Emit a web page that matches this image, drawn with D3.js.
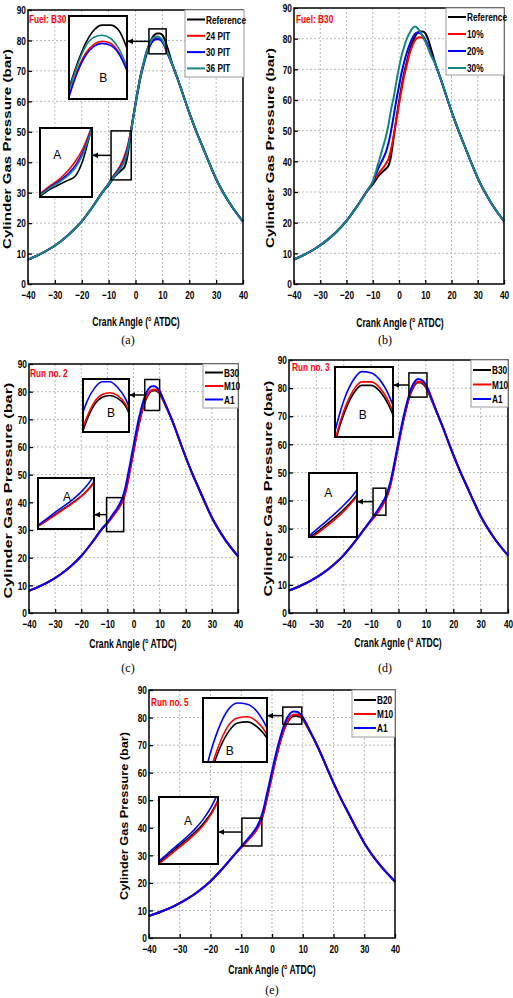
<!DOCTYPE html>
<html>
<head>
<meta charset="utf-8">
<script src="https://cdn.jsdelivr.net/npm/d3@7"></script>
<style>
body { margin: 0; background: #fff; }
svg { display: block; }
.narrow { font-family: 'Liberation Sans', Arial, sans-serif; font-weight: bold; }
</style>
</head>
<body>
<svg id="fig" width="513" height="998"></svg>
<script>
// crank angle samples (deg ATDC)
const angleLow = [-40, -36, -32, -28, -24, -20, -16, -12];
const angleMid = [-10, -8, -6, -5, -4, -3, -2, -1, 0, 1, 2, 3, 4, 5, 6, 7, 8, 9, 10, 11, 12];
const angleHigh = [14, 16, 18, 20, 22.5, 25, 27.5, 30, 35, 40];

// compression and expansion parts, shared by all cases (bar)
const pressLow = [8, 9.6, 11.5, 13.9, 16.9, 20.6, 25.3, 30.5];
const pressHigh = [71.4, 66.6, 61.4, 56.3, 50.4, 45, 39.6, 34.5, 26.6, 20.5];

// combustion part, one array per curve
// (a) and (b)
const refMid   = [32.5, 35, 36.8, 37.6, 38.6, 42, 48, 54, 59.5, 64.5, 69, 72.5, 76, 78.5, 80.5, 81.8, 82.3, 82.3, 81.8, 80, 77.3];
const pit24Mid = [33, 35.8, 38.3, 40, 42.2, 45, 49, 54, 59, 64, 68.5, 72, 75.3, 77.8, 79.5, 80.4, 80.7, 80.5, 79.6, 77.9, 75.7];
const pit30Mid = [32.9, 35.5, 37.8, 39.2, 41.2, 44.2, 48.5, 53.8, 59, 64, 68.5, 72, 75.2, 77.6, 79.3, 80.2, 80.5, 80.3, 79.5, 77.8, 75.6];
const pit36Mid = [32.8, 35.3, 37.5, 38.8, 40.6, 43.6, 48.2, 53.6, 59, 64.2, 68.8, 72.5, 75.8, 78.3, 80.2, 81.1, 81.3, 81, 80, 78.2, 75.9];
const egr10Mid = [33, 35.8, 38, 39.2, 40.8, 44, 48.5, 53.5, 58.5, 63.5, 68, 71.5, 75, 77.5, 79.3, 80.3, 80.5, 80.2, 79.3, 77.6, 75.4];
const egr20Mid = [33.2, 37.5, 41, 43, 46, 50, 55, 60, 64.5, 69, 72.5, 75.5, 78, 80, 81.5, 82, 81.8, 81, 79.7, 77.7, 75.4];
const egr30Mid = [33.5, 39, 45, 48, 52, 57, 61, 66, 70.5, 74.5, 77.5, 80, 81.8, 83.3, 84, 83.5, 82.3, 80.8, 79.1, 77.1, 74.9];
// (c) run no. 2
const run2B30 = [32.5, 35, 37.5, 39, 41, 44, 48.5, 53.5, 58.5, 63.5, 68, 72, 75.3, 77.8, 79.5, 80.3, 80.5, 80.2, 79.4, 77.6, 75.5];
const run2M10 = [32.4, 34.9, 37.4, 38.9, 40.9, 44, 48.5, 53.5, 58.5, 63.5, 68.1, 72.2, 75.6, 78.1, 79.8, 80.6, 80.8, 80.5, 79.6, 77.8, 75.7];
const run2A1  = [32.7, 35.5, 38.2, 40, 42.3, 45.8, 50.5, 55.5, 60.5, 65.5, 70, 74, 77.3, 79.8, 81.3, 82, 82, 81.4, 80.2, 78.2, 76];
// (d) run no. 3
const run3B30 = [33, 35.5, 38.3, 40, 42.3, 45.5, 50, 55, 60, 65, 69.5, 73.5, 77, 79.5, 81.2, 82, 82, 81.5, 80.3, 78.4, 76];
const run3M10 = [32.8, 35.2, 38, 39.8, 42, 45.3, 50, 55, 60, 65, 69.6, 73.6, 77.2, 79.8, 81.5, 82.3, 82.3, 81.8, 80.6, 78.6, 76.2];
const run3A1  = [33.2, 36, 39, 40.8, 43.2, 46.5, 51, 56, 61, 66, 70.5, 74.5, 78, 80.7, 82.4, 83.2, 83.1, 82.5, 81.2, 79.2, 76.7];
// (e) run no. 5
const run5B20 = [33, 35.5, 38, 39.5, 41.5, 44.5, 49, 54, 59, 64, 68.5, 72.5, 75.8, 78.2, 79.8, 80.6, 80.7, 80.3, 79.4, 77.6, 75.5];
const run5M10 = [32.8, 35.2, 37.7, 39.2, 41.3, 44.4, 49, 54, 59, 64, 68.6, 72.7, 76.1, 78.6, 80.3, 81, 81.1, 80.7, 79.7, 77.8, 75.7];
const run5A1  = [33.2, 35.8, 38.5, 40.2, 42.5, 45.8, 50.5, 55.5, 60.5, 65.5, 70, 74, 77.5, 80, 81.6, 82.2, 82.1, 81.5, 80.2, 78.2, 76];

const xTicks = [-40, -30, -20, -10, 0, 10, 20, 30, 40];
const yTicks = [0, 10, 20, 30, 40, 50, 60, 70, 80, 90];

const BLACK = "#000000", RED = "#ff0000", BLUE = "#0000ff", TEAL = "#138783";
const SQUEEZE = 0.72; // the figure uses a narrow bold face

function curve(mid) {
    const a = angleLow.concat(angleMid, angleHigh);
    const p = pressLow.concat(mid, pressHigh);
    return a.map((d, i) => [d, p[i]]);
}

const panels = [
    {
        caption: "(a)", capX: 128, capY: 344,
        left: 28, right: 243, top: 10, bottom: 284,
        note: "Fuel: B30", noteX: 29, noteY: 23,
        xTitle: "Crank Angle (\u00b0 ATDC)", xTitleX: 136, xTitleY: 326,
        yTitleX: 7, yTitleLen: 200,
        names: ["Reference", "24 PIT", "30 PIT", "36 PIT"],
        series: [refMid, pit24Mid, pit30Mid, pit36Mid],
        colors: [BLACK, RED, BLUE, TEAL],
        legend: { x: 185, y: 10, w: 59, h: 67, first: 9.5, row: 16.3, line: 18 },
        insets: [
            { box: [5, 11.4, 75.6, 83.8], view: [4, 11, 75, 83.2], rect: [69, 16, 58, 83], label: "B", lab: [0.59, 0.75] },
            { box: [-9.1, -1.6, 34.2, 50.3], view: [-9.1, -1.6, 33.5, 50.3], rect: [40, 128, 52, 69], label: "A", lab: [0.33, 0.39] }
        ]
    },
    {
        caption: "(b)", capX: 385, capY: 344,
        left: 294, right: 504, top: 8, bottom: 284,
        note: "Fuel: B30", noteX: 296, noteY: 23,
        xTitle: "Crank Angle (\u00b0 ATDC)", xTitleX: 400, xTitleY: 327,
        yTitleX: 270, yTitleLen: 200,
        names: ["Reference", "10%", "20%", "30%"],
        series: [refMid, egr10Mid, egr20Mid, egr30Mid],
        colors: [BLACK, RED, BLUE, TEAL],
        legend: { x: 446, y: 8, w: 58, h: 67, first: 9, row: 17, line: 18 },
        insets: []
    },
    {
        caption: "(c)", capX: 128, capY: 672,
        left: 29, right: 238, top: 364, bottom: 613,
        note: "Run no. 2", noteX: 30, noteY: 377,
        xTitle: "Crank Angle (\u00b0 ATDC)", xTitleX: 133, xTitleY: 648,
        yTitleX: 8, yTitleLen: 216,
        names: ["B30", "M10", "A1"],
        series: [run2B30, run2M10, run2A1],
        colors: [BLACK, RED, BLUE],
        legend: { x: 203, y: 364, w: 35, h: 44, first: 8.5, row: 13.5, line: 18 },
        insets: [
            { box: [4.3, 10, 73.2, 84.4], view: [4.5, 10.5, 76.5, 82.3], rect: [83, 379, 46, 53], label: "B", lab: [0.61, 0.64] },
            { box: [-10.3, -3.75, 29.4, 41.7], view: [-10.3, -3.75, 31.5, 42.5], rect: [38, 478, 56, 51], label: "A", lab: [0.52, 0.37] }
        ]
    },
    {
        caption: "(d)", capX: 385, capY: 672,
        left: 289, right: 508, top: 360, bottom: 613,
        note: "Run no. 3", noteX: 292, noteY: 371,
        xTitle: "Crank Agnle (\u00b0 ATDC)", xTitleX: 398, xTitleY: 647,
        yTitleX: 268, yTitleLen: 216,
        names: ["B30", "M10", "A1"],
        series: [run3B30, run3M10, run3A1],
        colors: [BLACK, RED, BLUE],
        legend: { x: 471, y: 360, w: 37, h: 47, first: 10, row: 14.5, line: 18 },
        insets: [
            { box: [3.8, 10.4, 76.8, 85.4], view: [4, 10.5, 77.5, 83.6], rect: [335, 367, 58, 70], label: "B", lab: [0.48, 0.69] },
            { box: [-9.3, -4.6, 34.8, 44.4], view: [-9.3, -4.6, 34, 44.4], rect: [309, 473, 48, 64], label: "A", lab: [0.4, 0.31] }
        ]
    },
    {
        caption: "(e)", capX: 272, capY: 994,
        left: 149, right: 395, top: 690, bottom: 938,
        note: "Run no. 5", noteX: 151, noteY: 706,
        xTitle: "Crank Angle (\u00b0 ATDC)", xTitleX: 272, xTitleY: 974,
        yTitleX: 124, yTitleLen: 168,
        names: ["B20", "M10", "A1"],
        series: [run5B20, run5M10, run5A1],
        colors: [BLACK, RED, BLUE],
        legend: { x: 352, y: 690, w: 43, h: 47, first: 10, row: 14, line: 22 },
        insets: [
            { box: [3.5, 9.7, 77.6, 83.8], view: [3.5, 10, 77.5, 82.6], rect: [203, 698, 64, 64], label: "B", lab: [0.42, 0.83] },
            { box: [-9.8, -3.3, 33.4, 43.5], view: [-9.8, -3.3, 33, 44], rect: [159, 797, 59, 67], label: "A", lab: [0.49, 0.36] }
        ]
    }
];

const svg = d3.select("#fig");

svg.append("defs").append("marker")
    .attr("id", "arrow")
    .attr("viewBox", "0 0 10 10")
    .attr("refX", 9).attr("refY", 5)
    .attr("markerWidth", 4).attr("markerHeight", 4)
    .attr("markerUnits", "strokeWidth")
    .attr("orient", "auto")
    .append("path")
    .attr("d", "M0,0L10,5L0,10Z")
    .attr("fill", "#000");

// narrow bold text placed at (x, y)
function narrowText(sel, x, y, size, str) {
    return sel.append("text")
        .attr("class", "narrow")
        .attr("transform", `translate(${x},${y}) scale(${SQUEEZE},1)`)
        .attr("font-size", size)
        .text(str);
}

panels.forEach((p, pi) => drawPanel(p, pi));

function drawPanel(p, pi) {
    const g = svg.append("g");
    const x = d3.scaleLinear().domain([-40, 40]).range([p.left, p.right]);
    const y = d3.scaleLinear().domain([0, 90]).range([p.bottom, p.top]);

    // dotted grid
    g.append("g").selectAll("line").data(xTicks.slice(1, -1)).join("line")
        .attr("x1", d => x(d)).attr("x2", d => x(d))
        .attr("y1", p.top).attr("y2", p.bottom)
        .attr("stroke", "#b8b8b8").attr("stroke-width", 1).attr("stroke-dasharray", "2,2");
    g.append("g").selectAll("line").data(yTicks.slice(1, -1)).join("line")
        .attr("y1", d => y(d)).attr("y2", d => y(d))
        .attr("x1", p.left).attr("x2", p.right)
        .attr("stroke", "#b8b8b8").attr("stroke-width", 1).attr("stroke-dasharray", "2,2");

    const line = d3.line().x(d => x(d[0])).y(d => y(d[1])).curve(d3.curveMonotoneX);

    p.series.forEach((s, i) => {
        g.append("path")
            .attr("d", line(curve(s)))
            .attr("fill", "none")
            .attr("stroke", p.colors[i])
            .attr("stroke-width", 2);
    });

    // frame
    g.append("rect")
        .attr("x", p.left).attr("y", p.top)
        .attr("width", p.right - p.left).attr("height", p.bottom - p.top)
        .attr("fill", "none").attr("stroke", "#000").attr("stroke-width", 1.5);

    // axes, ticks pointing inward
    g.append("g")
        .attr("transform", `translate(0,${p.bottom})`)
        .call(d3.axisBottom(x).tickValues(xTicks).tickSize(-4).tickPadding(7).tickFormat(d3.format("d")))
        .call(a => a.select(".domain").remove())
        .call(a => a.selectAll("line").attr("stroke-width", 1.3))
        .call(a => a.selectAll("text").attr("class", "narrow").attr("font-size", 11.5).attr("fill", "#000")
            .attr("transform", `scale(${SQUEEZE},1)`));
    g.append("g")
        .attr("transform", `translate(${p.left},0)`)
        .call(d3.axisLeft(y).tickValues(yTicks).tickSize(-4).tickPadding(3).tickFormat(d3.format("d")))
        .call(a => a.select(".domain").remove())
        .call(a => a.selectAll("line").attr("stroke-width", 1.3))
        .call(a => a.selectAll("text").attr("class", "narrow").attr("font-size", 11.5).attr("fill", "#000")
            .attr("transform", `scale(${SQUEEZE},1)`));

    // titles
    narrowText(g, p.xTitleX, p.xTitleY, 12, p.xTitle).attr("text-anchor", "middle");
    const yMid = (p.top + p.bottom) / 2 + 2;
    g.append("text")
        .attr("transform", `translate(${p.yTitleX + 4},${yMid}) rotate(-90)`)
        .attr("text-anchor", "middle")
        .attr("font-family", "'Liberation Sans', Arial, sans-serif")
        .attr("font-weight", "bold")
        .attr("font-size", 11.5)
        .attr("textLength", p.yTitleLen)
        .attr("lengthAdjust", "spacingAndGlyphs")
        .text("Cylinder Gas Pressure (bar)");

    narrowText(g, p.noteX, p.noteY, 11.5, p.note).attr("fill", "#ff0000");

    g.append("text")
        .attr("x", p.capX).attr("y", p.capY)
        .attr("text-anchor", "middle")
        .attr("font-family", "'Liberation Serif', 'Times New Roman', serif")
        .attr("font-size", 12)
        .text(p.caption);

    // legend
    const L = p.legend;
    const lg = g.append("g");
    lg.append("rect")
        .attr("x", L.x).attr("y", L.y).attr("width", L.w).attr("height", L.h)
        .attr("fill", "#fff").attr("stroke", "#9a9a9a").attr("stroke-width", 1);
    p.names.forEach((n, i) => {
        const yy = L.y + L.first + i * L.row;
        lg.append("line")
            .attr("x1", L.x + 2).attr("x2", L.x + 2 + L.line)
            .attr("y1", yy).attr("y2", yy)
            .attr("stroke", p.colors[i]).attr("stroke-width", 2);
        narrowText(lg, L.x + 3 + L.line, yy + 4, 11.5, n);
    });

    // zoom insets
    p.insets.forEach((ins, k) => {
        const [bx0, bx1, by0, by1] = ins.box;
        const sx = x(bx0), ex = x(bx1), sy = y(by1), ey = y(by0);
        g.append("rect")
            .attr("x", sx).attr("y", sy).attr("width", ex - sx).attr("height", ey - sy)
            .attr("fill", "none").attr("stroke", "#000").attr("stroke-width", 1.5);

        const [rx, ry, rw, rh] = ins.rect;
        const ay = (sy + ey) / 2;
        g.append("line")
            .attr("x1", sx).attr("x2", rx + rw + 1)
            .attr("y1", ay).attr("y2", ay)
            .attr("stroke", "#000").attr("stroke-width", 1.5)
            .attr("marker-end", "url(#arrow)");

        const clipId = `clip${pi}_${k}`;
        g.append("clipPath").attr("id", clipId)
            .append("rect").attr("x", rx).attr("y", ry).attr("width", rw).attr("height", rh);
        g.append("rect")
            .attr("x", rx).attr("y", ry).attr("width", rw).attr("height", rh)
            .attr("fill", "#fff");

        const [vx0, vx1, vy0, vy1] = ins.view;
        const ix = d3.scaleLinear().domain([vx0, vx1]).range([rx, rx + rw]);
        const iy = d3.scaleLinear().domain([vy0, vy1]).range([ry + rh, ry]);
        const iline = d3.line().x(d => ix(d[0])).y(d => iy(d[1])).curve(d3.curveMonotoneX);
        const ig = g.append("g").attr("clip-path", `url(#${clipId})`);
        p.series.forEach((s, i) => {
            ig.append("path")
                .attr("d", iline(curve(s)))
                .attr("fill", "none")
                .attr("stroke", p.colors[i])
                .attr("stroke-width", 1.6);
        });
        g.append("rect")
            .attr("x", rx).attr("y", ry).attr("width", rw).attr("height", rh)
            .attr("fill", "none").attr("stroke", "#000").attr("stroke-width", 2);
        g.append("text")
            .attr("x", rx + ins.lab[0] * rw).attr("y", ry + ins.lab[1] * rh + 4)
            .attr("text-anchor", "middle")
            .attr("font-family", "'Liberation Sans', Arial, sans-serif")
            .attr("font-size", 12)
            .text(ins.label);
    });
}
</script>
</body>
</html>
